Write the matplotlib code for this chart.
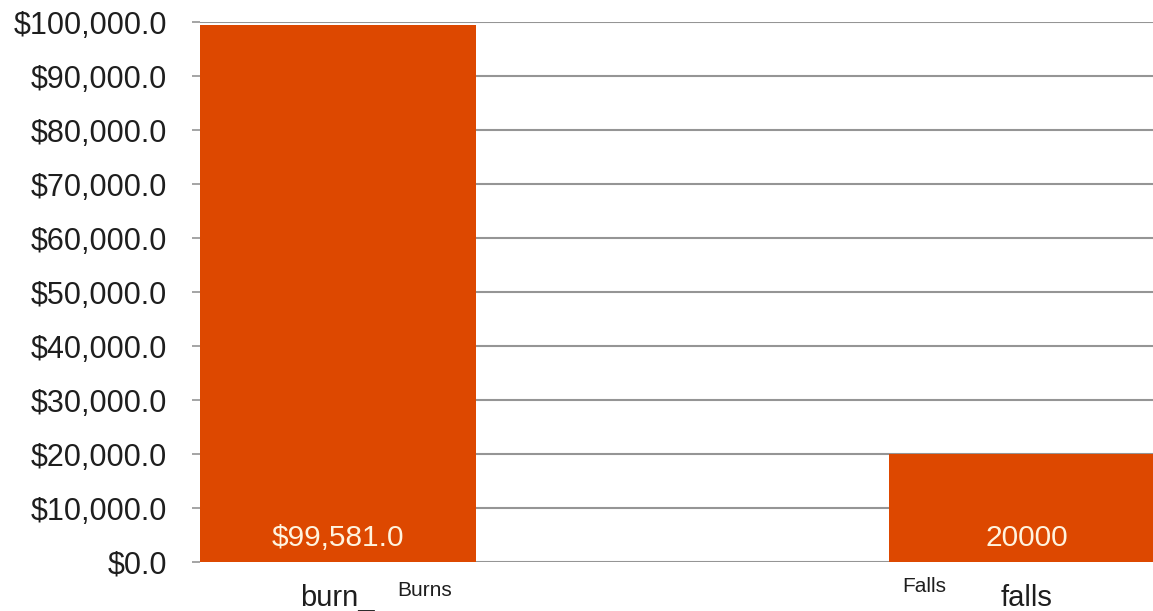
import matplotlib.pyplot as plt
import matplotlib.ticker as mticker

# data
categories = ['burn_', 'falls']
values = [99581.0, 20000]
value_labels = ['$99,581.0', '20000']
extra_labels = ['Burns', 'Falls']
extra_pos = [0.126, 0.851]
extra_y = [-0.052, -0.045]

bar_color = '#DD4800'
grid_color = '#959595'

plt.rcParams['font.family'] = ['Liberation Sans', 'DejaVu Sans']

fig = plt.figure(figsize=(11.53, 6.11), dpi=100)
ax = fig.add_axes([0.1735, 0.0802, 0.8366, 0.883])

x = range(len(categories))
ax.bar(x, values, width=0.4, color=bar_color, zorder=2)

ax.set_xlim(-0.2, 1.2)
ax.set_ylim(0, 100000)
ax.yaxis.set_major_locator(mticker.MultipleLocator(10000))
ax.yaxis.set_major_formatter(mticker.FuncFormatter(lambda v, p: f'${v:,.1f}'))
ax.grid(axis='y', color=grid_color, linewidth=1.5, zorder=0)
ax.set_axisbelow(True)

for s in ax.spines.values():
    s.set_visible(False)

ax.tick_params(axis='y', length=6, width=1.2, color=grid_color, pad=18,
               labelsize=22, labelcolor='#1e1e1e')
ax.set_xticks(list(x), labels=categories)
ax.tick_params(axis='x', length=0, pad=16, labelsize=21, labelcolor='#1e1e1e')

# value labels inside the bars
for i, lbl in enumerate(value_labels):
    ax.text(i, 4400, lbl, ha='center', va='center', fontsize=21.5, color='#FFF3DE')

# small extra category labels
for px, py, lbl in zip(extra_pos, extra_y, extra_labels):
    ax.text(px, py, lbl, transform=ax.get_xaxis_transform(), ha='center',
            va='center', fontsize=15, color='#1e1e1e')

fig.savefig('out.png', dpi=100)
